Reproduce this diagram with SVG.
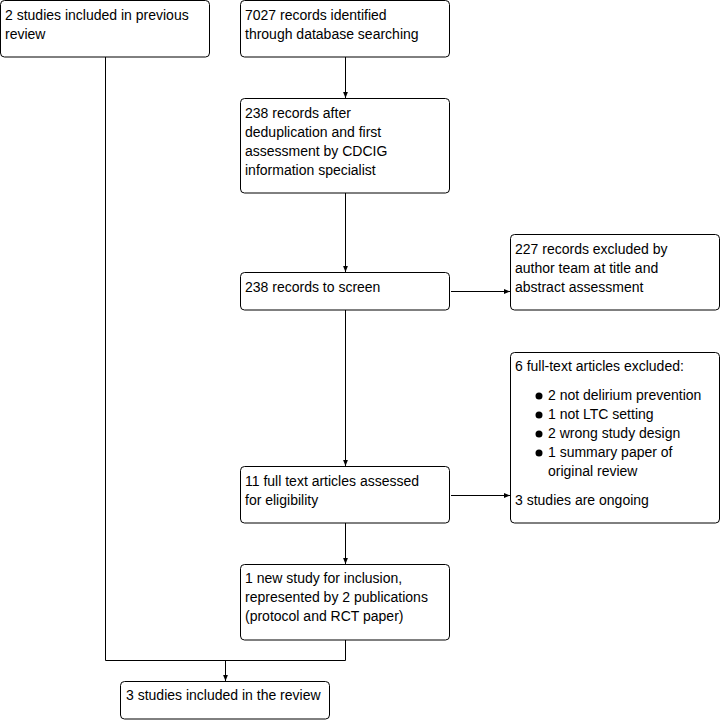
<svg xmlns="http://www.w3.org/2000/svg" width="721" height="720" viewBox="0 0 721 720">
<style>
.box{fill:#fff;stroke:#000;stroke-width:1}
text{font-family:"Liberation Sans",Arial,sans-serif;font-size:14px;fill:#000}
.c{fill:none;stroke:#000;stroke-width:1}
</style>
<defs>
<marker id="ah" viewBox="0 0 10 10" refX="10" refY="5" markerWidth="6" markerHeight="6" markerUnits="userSpaceOnUse" orient="auto"><path d="M0,1 L10,5 L0,9 z" fill="#000"/></marker>
</defs>
<rect width="721" height="720" fill="#fff"/>
<g id="connectors">
<path class="c" d="M105.5,57 V660.5 H345.5 V640"/>
<path class="c" d="M225.5,660.5 V681" marker-end="url(#ah)"/>
<path class="c" d="M345.5,57 V98" marker-end="url(#ah)"/>
<path class="c" d="M345.5,193 V272" marker-end="url(#ah)"/>
<path class="c" d="M451,291.5 H510" marker-end="url(#ah)"/>
<path class="c" d="M345.5,310 V466" marker-end="url(#ah)"/>
<path class="c" d="M451,495.5 H510" marker-end="url(#ah)"/>
<path class="c" d="M345.5,523 V564" marker-end="url(#ah)"/>
</g>
<g id="n1"><rect class="box" x="0.5" y="0.5" width="209" height="56.5" rx="4"/>
<text x="5" y="20">2 studies included in previous</text><text x="5" y="39">review</text></g>
<g id="n2"><rect class="box" x="240.5" y="0.5" width="209" height="56.5" rx="4"/>
<text x="245" y="20">7027 records identified</text><text x="245" y="39">through database searching</text></g>
<g id="n3"><rect class="box" x="240.5" y="98.5" width="209" height="94.5" rx="4"/>
<text x="245" y="118">238 records after</text><text x="245" y="137">deduplication and first</text><text x="245" y="156">assessment by CDCIG</text><text x="245" y="175">information specialist</text></g>
<g id="n4"><rect class="box" x="240.5" y="272.5" width="209" height="37.5" rx="4"/>
<text x="245" y="292">238 records to screen</text></g>
<g id="n5"><rect class="box" x="510.5" y="234.5" width="209" height="75.5" rx="4"/>
<text x="515" y="254">227 records excluded by</text><text x="515" y="273">author team at title and</text><text x="515" y="292">abstract assessment</text></g>
<g id="n6"><rect class="box" x="510.5" y="352.5" width="209" height="170.5" rx="4"/>
<text x="515" y="371">6 full-text articles excluded:</text>
<circle cx="539" cy="396" r="3.5"/><text x="548" y="400">2 not delirium prevention</text>
<circle cx="539" cy="415" r="3.5"/><text x="548" y="419">1 not LTC setting</text>
<circle cx="539" cy="434" r="3.5"/><text x="548" y="438">2 wrong study design</text>
<circle cx="539" cy="453" r="3.5"/><text x="548" y="457">1 summary paper of</text>
<text x="548" y="476">original review</text>
<text x="515" y="505">3 studies are ongoing</text></g>
<g id="n7"><rect class="box" x="240.5" y="466.5" width="209" height="56.5" rx="4"/>
<text x="245" y="486">11 full text articles assessed</text><text x="245" y="505">for eligibility</text></g>
<g id="n8"><rect class="box" x="240.5" y="564.5" width="209" height="75.5" rx="4"/>
<text x="245" y="583">1 new study for inclusion,</text><text x="245" y="602">represented by 2 publications</text><text x="245" y="621">(protocol and RCT paper)</text></g>
<g id="n9"><rect class="box" x="120.5" y="681.5" width="209" height="37.5" rx="4"/>
<text x="126" y="700">3 studies included in the review</text></g>
</svg>
